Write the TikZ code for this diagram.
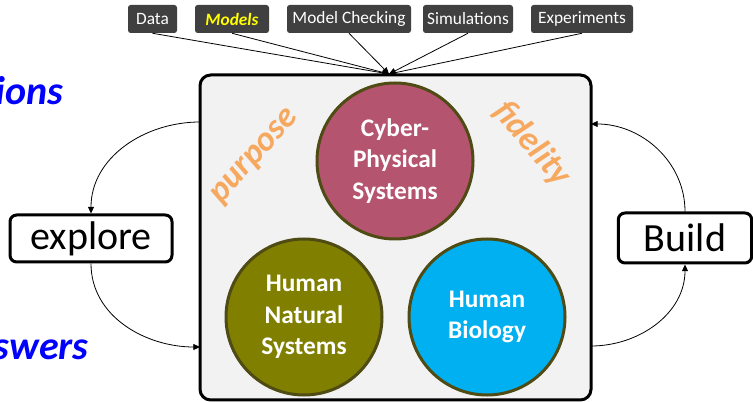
\documentclass[tikz,border=0pt]{standalone}
\usepackage{fontspec}
\setmainfont{Carlito}
\usetikzlibrary{arrows.meta}

\definecolor{toolgray}{HTML}{404040}
\definecolor{panelgray}{HTML}{F2F2F2}
\definecolor{cpsrose}{HTML}{B5546F}
\definecolor{natolive}{HTML}{807F00}
\definecolor{biocyan}{HTML}{00B0F0}
\definecolor{ringbrown}{HTML}{4F4B14}
\definecolor{wordorange}{HTML}{F7A85F}
\definecolor{askblue}{HTML}{0000FF}
\definecolor{modelyellow}{HTML}{FFFF00}

\tikzset{
  tool/.style={fill=toolgray, text=white, rounded corners=2pt, minimum height=21pt,
    inner xsep=2pt, font=\fontsize{13}{15}\selectfont},
  realm/.style={circle, draw=ringbrown, line width=2.25pt, minimum size=117pt,
    inner sep=0pt, text=white, align=center, font=\bfseries\fontsize{19}{23.5}\selectfont},
  verb/.style={draw, line width=2.25pt, rounded corners=5pt, fill=white,
    inner sep=0pt, font=\fontsize{30}{36}\selectfont},
  feed/.style={-{Triangle[length=5pt,width=4.5pt]}, line width=0.6pt},
  word/.style={text=wordorange, font=\bfseries\itshape\fontsize{26}{30}\selectfont},
  ask/.style={text=askblue, anchor=base east, inner sep=0pt,
    font=\bfseries\itshape\fontsize{30}{36}\selectfont}
}

\begin{document}
\begin{tikzpicture}[x=0.75pt, y=-0.75pt]

    % Fix the page to the reference size
    \useasboundingbox (0,0) rectangle (753,402);

    % The system panel
    \node[draw, line width=2.25pt, rounded corners=8pt, fill=panelgray,
      minimum width=293.25pt, minimum height=243.75pt] (panel) at (395.5,237.5) {};

    % The three realms
    \node[realm, fill=cpsrose] (cps) at (395,161) {Cyber-\\Physical\\Systems};
    \node[realm, fill=natolive] (hns) at (304,317) {Human\\Natural\\Systems};
    \node[realm, fill=biocyan] (bio) at (487,317) {Human\\Biology};

    % The two slanted words
    \node[word, rotate=48] (purpose) at (256,157) {purpose};
    \node[word, rotate=-49] (fidelity) at (532,144) {fidelity};

    % The sources along the top
    \node[tool, minimum width=36.75pt] (data) at (152.5,19) {Data};
    \node[tool, minimum width=55.5pt] (models) at (232,19) {\textcolor{modelyellow}{\bfseries\itshape Models}};
    \node[tool, minimum width=93pt] (check) at (349,19) {Model Checking};
    \node[tool, minimum width=67.5pt] (sims) at (468,19) {Simulations};
    \node[tool, minimum width=76.5pt] (exps) at (582,19) {Experiments};

    % Where the sources meet the panel
    \coordinate (hub) at (389,74);

    % Feed every source into the panel
    \draw[feed] (data.south) -- (hub);
    \draw[feed] (models.south) -- (hub);
    \draw[feed] (check.south) -- (hub);
    \draw[feed] (sims.south) -- (hub);
    \draw[feed] (exps.south) -- (hub);

    % The explore and build boxes
    \node[verb, minimum width=121.5pt, minimum height=35.25pt] (explore) at (91,238.5) {explore};
    \node[verb, minimum width=100pt, minimum height=37.5pt] (build) at (685,238) {Build};

    % Points on the panel sides
    \coordinate (qout) at (200,122);
    \coordinate (ain) at (200,347);
    \coordinate (bin) at (591,124);
    \coordinate (bout) at (591,346);

    % Left loop
    \draw[feed] (qout) to[out=180, in=90] (explore.north);
    \draw[feed] (explore.south) to[out=-90, in=180] (ain);

    % Right loop
    \draw[feed] (bout) to[out=0, in=-90] (build.south);
    \draw[feed] (build.north) to[out=90, in=0] (bin);

    % Blue words cut by the left edge
    \node[ask] (questions) at (64,105) {ions};
    \node[ask] (answers) at (89,360) {swers};

\end{tikzpicture}
\end{document}
